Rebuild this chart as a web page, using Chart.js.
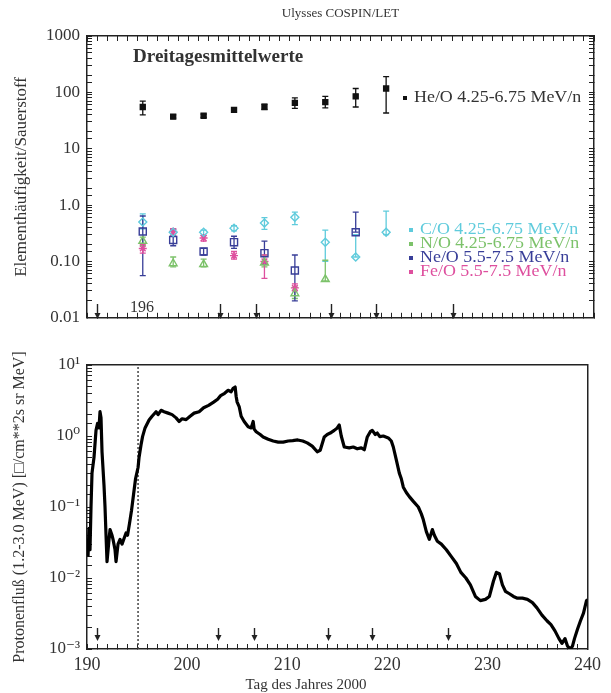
<!DOCTYPE html>
<html>
<head>
<meta charset="utf-8">
<script src="https://cdn.jsdelivr.net/npm/chart.js@4.4.1/dist/chart.umd.min.js"></script>
<style>
  body { margin: 0; background: #fff; }
  #wrap { position: relative; width: 611px; height: 693px; }
  #top { position: absolute; left: 0; top: 0; }
  #bottom { position: absolute; left: 0; top: 340px; }
</style>
</head>
<body>
<div id="wrap">
  <canvas id="top" width="611" height="340"></canvas>
  <canvas id="bottom" width="611" height="353"></canvas>
</div>
<script>
// three-day averages, centre day of each interval
const days = [195.5, 198.5, 201.5, 204.5, 207.5, 210.5, 213.5, 216.5, 219.5];

const heO   = [55, 37, 38.5, 49, 55, 65, 67, 85, 117];
const heOLo = [40, 35, 36, 46, 50, 52, 53, 55, 43];
const heOHi = [70, 40, 41, 52, 62, 80, 85, 117, 190];

const cO   = [0.50, 0.33, 0.33, 0.39, 0.48, 0.61, 0.22, 0.12, 0.33];
const cOLo = [0.38, 0.29, 0.29, 0.35, 0.37, 0.45, 0.10, 0.12, 0.30];
const cOHi = [0.70, 0.38, 0.36, 0.43, 0.60, 0.75, 0.36, 0.30, 0.78];

const nO   = [0.23, 0.092, 0.089, null, 0.095, 0.027, 0.048, null, null];
const nOLo = [0.19, 0.08, 0.08, null, 0.08, 0.022, 0.045, null, null];
const nOHi = [0.27, 0.12, 0.11, null, 0.13, 0.035, 0.105, null, null];

const neO   = [0.34, 0.24, 0.15, 0.22, 0.14, 0.069, null, 0.33, null];
const neOLo = [0.056, 0.19, 0.13, 0.17, 0.09, 0.02, null, 0.33, null];
const neOHi = [0.64, 0.37, 0.17, 0.28, 0.23, 0.13, null, 0.75, null];

const feO   = [0.17, 0.34, 0.26, 0.127, 0.10, 0.034, null, null, null];
const feOLo = [0.14, 0.29, 0.23, 0.11, 0.05, 0.03, null, null, null];
const feOHi = [0.20, 0.38, 0.29, 0.15, 0.13, 0.04, null, null, null];

// shock / event arrows (day of year)
const arrowDays = [191, 203.1, 206.7, 214.1, 218.5, 226.1];
const dottedDay = 195.1;

// proton flux 1.2-3.0 MeV
const protonDay = [190.1, 190.2, 190.3, 190.4, 190.5, 190.7, 190.9, 191.05, 191.2, 191.3, 191.4, 191.5, 191.7, 191.8, 191.9, 192.0,
  192.2, 192.3, 192.5, 192.6, 192.8, 192.9, 193.1, 193.3, 193.5, 193.7, 193.9, 194.05, 194.25, 194.45, 194.65, 194.85,
  195.1, 195.2, 195.4, 195.55, 195.8, 196.2, 196.5, 196.9, 197.1, 197.4, 197.7, 198.1, 198.5, 198.9, 199.2, 199.5,
  199.9, 200.3, 200.7, 201.2, 201.65, 202.15, 202.65, 203.05, 203.35, 203.75, 204.1, 204.4, 204.6, 204.8, 204.9, 205.0,
  205.2, 205.4, 205.7, 206.1, 206.4, 206.6, 206.7, 206.9, 207.3, 207.6, 208.1, 208.6, 209.1, 209.6, 210.1, 210.55,
  211.05, 211.55, 212.0, 212.5, 213.0, 213.3, 213.7, 214.0, 214.3, 214.7, 215.0, 215.2, 215.4, 215.7, 216.2, 216.6,
  217.0, 217.4, 217.7, 218.0, 218.3, 218.5, 218.8, 219.0, 219.25, 219.6, 220.1, 220.4, 220.6, 220.9, 221.2, 221.4,
  221.6, 221.9, 222.2, 222.6, 223.1, 223.4, 223.6, 223.9, 224.2, 224.5, 224.7, 225.0, 225.4, 225.9, 226.4, 226.9,
  227.35, 227.85, 228.3, 228.8, 229.3, 229.8, 230.2, 230.6, 230.9, 231.2, 231.5, 231.8, 232.2, 232.6, 233.0, 233.5,
  234.0, 234.5, 234.95, 235.45, 235.95, 236.35, 236.75, 237.15, 237.45, 237.75, 238.0, 238.3, 238.5, 238.7, 239.0, 239.3,
  239.6, 239.9, 240.0];
const protonFlux = [0.02, 0.05, 0.025, 0.1, 0.3, 0.5, 1.2, 1.5, 1.3, 2.2, 1.8, 0.6, 0.2, 0.1, 0.04, 0.017,
  0.035, 0.048, 0.04, 0.035, 0.025, 0.017, 0.03, 0.035, 0.03, 0.036, 0.043, 0.04, 0.059, 0.09, 0.15, 0.25,
  0.36, 0.5, 0.75, 0.98, 1.3, 1.68, 1.9, 2.2, 2.0, 2.3, 2.2, 2.1, 2.0, 1.8, 1.6, 1.75,
  1.7, 1.9, 2.1, 2.2, 2.5, 2.7, 3.0, 3.3, 3.7, 4.0, 4.4, 4.2, 4.7, 4.9, 3.6, 3.0,
  2.6, 1.9, 1.6, 1.35, 1.3, 1.6, 1.25, 1.15, 1.05, 0.97, 0.9, 0.85, 0.82, 0.82, 0.85, 0.86,
  0.88, 0.85, 0.8, 0.72, 0.6, 0.63, 0.97, 1.05, 1.1, 1.2, 1.3, 1.43, 1.0, 0.7, 0.68, 0.7,
  0.66, 0.68, 0.64, 0.97, 1.15, 1.2, 1.05, 1.1, 0.98, 1.0, 0.94, 0.85, 0.7, 0.46, 0.3, 0.25,
  0.19, 0.16, 0.14, 0.12, 0.1, 0.08, 0.066, 0.045, 0.035, 0.048, 0.04, 0.033, 0.03, 0.025, 0.02, 0.016,
  0.012, 0.01, 0.008, 0.0055, 0.0048, 0.005, 0.0055, 0.009, 0.012, 0.0115, 0.008, 0.0065, 0.006, 0.0055, 0.0052, 0.0052,
  0.005, 0.0045, 0.0038, 0.003, 0.0025, 0.0022, 0.0018, 0.0014, 0.0012, 0.0014, 0.0011, 0.001, 0.0011, 0.0014, 0.0019, 0.0025,
  0.0032, 0.0048, 0.005];

const SERIF = '"Liberation Serif", "DejaVu Serif", serif';

function points(vals, lo, hi) {
  return days.map((d, i) => ({x: d, y: vals[i], lo: lo[i], hi: hi[i]})).filter(p => p.y != null);
}

function isDecade(v) {
  const l = Math.log10(v);
  return Math.abs(l - Math.round(l)) < 1e-9;
}

function dayTicks(scale) {
  scale.ticks = [];
  for (let v = 190; v <= 240; v++) scale.ticks.push({value: v});
}

// text drawn slightly widened, like the original plot font
function wideText(ctx, text, x, y, sx) {
  ctx.save();
  ctx.translate(x, y);
  ctx.scale(sx, 1);
  ctx.fillText(text, 0, 0);
  ctx.restore();
}

const errorBars = {
  id: 'errorBars',
  beforeDatasetsDraw(chart) {
    const {ctx, scales: {x, y}} = chart;
    chart.data.datasets.forEach(ds => {
      if (!ds.errorBars) return;
      ctx.save();
      ctx.strokeStyle = ds.borderColor;
      ctx.lineWidth = 1.3;
      ds.data.forEach(p => {
        if (p.lo == null || p.hi == null) return;
        const px = x.getPixelForValue(p.x);
        const y1 = y.getPixelForValue(p.lo);
        const y2 = y.getPixelForValue(p.hi);
        ctx.beginPath();
        ctx.moveTo(px, y1); ctx.lineTo(px, y2);
        ctx.moveTo(px - 3, y1); ctx.lineTo(px + 3, y1);
        ctx.moveTo(px - 3, y2); ctx.lineTo(px + 3, y2);
        ctx.stroke();
      });
      ctx.restore();
    });
  }
};

const arrows = {
  id: 'arrows',
  afterDatasetsDraw(chart, args, opts) {
    const {ctx, scales: {x}} = chart;
    ctx.save();
    ctx.strokeStyle = '#222';
    ctx.fillStyle = '#222';
    ctx.lineWidth = 1.4;
    arrowDays.forEach(d => {
      const px = Math.round(x.getPixelForValue(d)) + 0.5;
      ctx.beginPath();
      ctx.moveTo(px, opts.y1); ctx.lineTo(px, opts.y2 - 3);
      ctx.stroke();
      ctx.beginPath();
      ctx.moveTo(px - 3, opts.y2 - 6); ctx.lineTo(px + 3, opts.y2 - 6); ctx.lineTo(px, opts.y2);
      ctx.closePath();
      ctx.fill();
    });
    ctx.restore();
  }
};

const topNotes = {
  id: 'topNotes',
  afterDraw(chart) {
    const {ctx} = chart;
    ctx.save();
    ctx.textBaseline = 'middle';
    ctx.fillStyle = '#333';
    ctx.font = 'bold 18px ' + SERIF;
    wideText(ctx, 'Dreitagesmittelwerte', 133, 57, 1.06);
    ctx.font = '16px ' + SERIF;
    ctx.textAlign = 'center';
    ctx.fillText('196', 142, 308);
    ctx.textAlign = 'left';
    // legend
    ctx.font = '16px ' + SERIF;
    chart.data.datasets.forEach((ds, i) => {
      const y = i === 0 ? 98 : 230 + (i - 1) * 14;
      const mx = i === 0 ? 405 : 411;
      ctx.fillStyle = ds.borderColor;
      ctx.fillRect(mx - 2, y - 2, 4, 4);
      ctx.fillStyle = ds.textColor;
      wideText(ctx, ds.label, mx + 9, y, 1.12);
    });
    ctx.restore();
  }
};

const bottomNotes = {
  id: 'bottomNotes',
  afterDraw(chart) {
    const {ctx} = chart;
    ctx.save();
    ctx.textBaseline = 'middle';
    ctx.textAlign = 'center';
    ctx.fillStyle = '#333';
    ctx.font = '15px ' + SERIF;
    ctx.fillText('Tag des Jahres 2000', 306, 345);
    ctx.restore();
  }
};

const markerDs = (label, data, color, textColor, style, radius, filled) => ({
  label, data, errorBars: true, textColor,
  borderColor: color,
  backgroundColor: filled ? color : 'rgba(255,255,255,0)',
  pointStyle: style, pointRadius: radius, pointBorderWidth: 1.4,
  showLine: false
});

const tickAxis = (extra) => Object.assign({
  grid: {drawOnChartArea: false, tickLength: -5, color: '#222', tickColor: '#222', tickWidth: 1},
  border: {display: true, color: '#222', width: 1.5},
}, extra);

new Chart(document.getElementById('top'), {
  type: 'scatter',
  data: {
    datasets: [
      markerDs('He/O 4.25-6.75 MeV/n', points(heO, heOLo, heOHi), '#111', '#333', 'rect', 3.5, true),
      markerDs('C/O 4.25-6.75 MeV/n', points(cO, cOLo, cOHi), '#5fcbdc', '#5fcbdc', 'rectRot', 4),
      markerDs('N/O 4.25-6.75 MeV/n', points(nO, nOLo, nOHi), '#7cc26a', '#7cc26a', 'triangle', 4.5),
      markerDs('Ne/O 5.5-7.5 MeV/n', points(neO, neOLo, neOHi), '#383e98', '#383e98', 'rect', 5),
      markerDs('Fe/O 5.5-7.5 MeV/n', points(feO, feOLo, feOHi), '#de4f9e', '#de4f9e', 'star', 4)
    ]
  },
  options: {
    responsive: false,
    animation: false,
    devicePixelRatio: 1,
    layout: {padding: {left: 0, right: 17, top: 0, bottom: 0}},
    plugins: {
      legend: {display: false},
      tooltip: {enabled: false},
      title: {
        display: true, fullSize: false,
        text: 'Ulysses COSPIN/LET',
        color: '#333',
        font: {family: SERIF, size: 13, weight: 'normal'},
        padding: {top: 6, bottom: 14.4}
      },
      arrows: {y1: 304, y2: 319}
    },
    scales: {
      x: tickAxis({
        type: 'linear', position: 'bottom', min: 190, max: 240,
        afterBuildTicks: dayTicks,
        afterFit: s => { s.height = 15; },
        ticks: {display: false, autoSkip: false}
      }),
      xTop: tickAxis({
        type: 'linear', axis: 'x', position: 'top', min: 190, max: 240,
        afterBuildTicks: dayTicks,
        afterFit: s => { s.height = 0; },
        ticks: {display: false, autoSkip: false}
      }),
      y: tickAxis({
        type: 'logarithmic', position: 'left', min: 0.01, max: 1000,
        afterFit: s => { s.width = 87; },
        ticks: {
          autoSkip: false, padding: 12, color: '#333',
          font: {family: SERIF, size: 17},
          callback: v => {
            if (!isDecade(v)) return '';
            const e = Math.round(Math.log10(v));
            return {3: '1000', 2: '100', 1: '10', 0: '1.0', '-1': '0.10', '-2': '0.01'}[e];
          }
        },
        title: {
          display: true, text: 'Elementhäufigkeit/Sauerstoff', color: '#333',
          font: {family: SERIF, size: 17}, padding: {top: 11, bottom: 0}
        }
      }),
      yRight: tickAxis({
        type: 'logarithmic', axis: 'y', position: 'right', min: 0.01, max: 1000,
        afterFit: s => { s.width = 0; },
        ticks: {display: false, autoSkip: false}
      })
    }
  },
  plugins: [errorBars, arrows, topNotes]
});

new Chart(document.getElementById('bottom'), {
  type: 'scatter',
  data: {
    datasets: [
      {
        label: 'Protonenfluß',
        data: protonDay.map((d, i) => ({x: d, y: protonFlux[i]})),
        showLine: true, borderColor: '#000', borderWidth: 3.2,
        pointRadius: 0, tension: 0, borderJoinStyle: 'round'
      },
      {
        label: 'Schock',
        data: [{x: dottedDay, y: 0.001}, {x: dottedDay, y: 10}],
        showLine: true, borderColor: '#444', borderWidth: 1.5, borderDash: [2, 2],
        pointRadius: 0
      }
    ]
  },
  options: {
    responsive: false,
    animation: false,
    devicePixelRatio: 1,
    layout: {padding: {left: 0, right: 18, top: 25, bottom: 0}},
    plugins: {
      legend: {display: false},
      tooltip: {enabled: false},
      arrows: {y1: 288, y2: 301}
    },
    scales: {
      x: tickAxis({
        type: 'linear', position: 'bottom', min: 190, max: 240,
        afterBuildTicks: dayTicks,
        afterFit: s => { s.height = 44; },
        ticks: {
          autoSkip: false, maxRotation: 0, padding: 10, color: '#333',
          font: {family: SERIF, size: 18},
          callback: v => (v % 10 === 0 ? String(v) : '')
        }
      }),
      xTop: {
        type: 'linear', axis: 'x', position: 'top', min: 190, max: 240,
        afterFit: s => { s.height = 0; },
        ticks: {display: false},
        grid: {display: false},
        border: {display: true, color: '#222', width: 1.5}
      },
      y: tickAxis({
        type: 'logarithmic', position: 'left', min: 0.001, max: 10,
        afterFit: s => { s.width = 87; },
        ticks: {
          autoSkip: false, padding: 12, color: '#333',
          font: {family: SERIF, size: 17},
          callback: v => {
            if (!isDecade(v)) return '';
            const e = Math.round(Math.log10(v));
            return {1: '10¹', 0: '10⁰', '-1': '10⁻¹', '-2': '10⁻²', '-3': '10⁻³'}[e];
          }
        },
        title: {
          display: true, text: 'Protonenfluß (1.2-3.0 MeV) [□/cm**2s sr MeV]', color: '#333',
          font: {family: SERIF, size: 16}, padding: {top: 10, bottom: 0}
        }
      }),
      yRight: {
        type: 'logarithmic', axis: 'y', position: 'right', min: 0.001, max: 10,
        afterFit: s => { s.width = 0; },
        ticks: {display: false},
        grid: {display: false},
        border: {display: true, color: '#222', width: 1.5}
      }
    }
  },
  plugins: [arrows, bottomNotes]
});
</script>
</body>
</html>
